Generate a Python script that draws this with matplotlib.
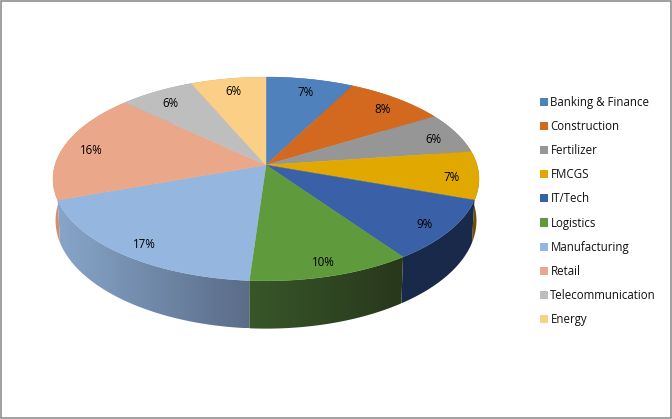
import numpy as np
import matplotlib
matplotlib.use("Agg")
import matplotlib.pyplot as plt
from matplotlib.patches import Polygon, Rectangle, Patch
from matplotlib.colors import to_rgb

categories = ["Banking & Finance", "Construction", "Fertilizer", "FMCGS", "IT/Tech",
              "Logistics", "Manufacturing", "Retail", "Telecommunication", "Energy"]
percent = [7, 8, 6, 7, 9, 10, 17, 16, 6, 6]
colors = ["#4F81BD", "#D2691E", "#969696", "#E0A800", "#3A60A8",
          "#5F9A3C", "#95B6DF", "#EBA789", "#BEBEBE", "#FBCF85"]
wall_left = ["#3A5F8C", "#9A4D16", "#6E6E6E", "#7A5C00", "#18294A",
             "#38562A", "#87A5C9", "#D08F70", "#8C8C8C", "#B89860"]
wall_right = ["#3A5F8C", "#9A4D16", "#6E6E6E", "#5E4700", "#18294A",
              "#28381B", "#5A6C88", "#D08F70", "#8C8C8C", "#B89860"]

plt.rcParams["font.family"] = ["Open Sans", "DejaVu Sans"]
fig = plt.figure(figsize=(6.72, 4.19), dpi=100)
ax = fig.add_axes([0, 0, 1, 1])
ax.axis("off")

# perspective projection of the disc
CX, CY, A, B, K = 266, 165, 100, 211, 0.137
DEPTH, SX, SY = 40.8, 0.988, 1.06


def top(theta, r=1.0):
    X, Y = r * np.sin(theta), r * np.cos(theta)
    d = 1 + K * Y
    return CX + B * X / d, CY - A * Y / d


def bottom(theta):
    x, y = top(theta)
    return CX + (x - CX) * SX, CY + (y - CY) * SY + DEPTH


vals = np.array(percent, dtype=float)
edges = np.concatenate([[0], np.cumsum(vals)]) / vals.sum() * 2 * np.pi

# side wall, back to front, each slice a horizontal gradient clipped to its outline
order = sorted(range(len(vals)), key=lambda i: -abs(((edges[i] + edges[i + 1]) / 2) - np.pi))
for n, i in enumerate(order):
    t = np.linspace(edges[i], edges[i + 1], 120)
    xt, yt = top(t)
    xb, yb = bottom(t)
    pts = np.column_stack([np.r_[xt, xb[::-1]], np.r_[yt, yb[::-1]]])
    lo, hi = pts[:, 0].min(), pts[:, 0].max()
    c0, c1 = np.array(to_rgb(wall_left[i])), np.array(to_rgb(wall_right[i]))
    f = np.linspace(0, 1, 64)[None, :, None]
    grad = c0[None, None, :] + (c1 - c0)[None, None, :] * f
    im = ax.imshow(grad, extent=(lo, hi, pts[:, 1].max(), pts[:, 1].min()), aspect="auto",
                   interpolation="bilinear", zorder=2 + n * 0.01)
    outline = Polygon(pts, closed=True, transform=ax.transData, facecolor="none", edgecolor="none")
    ax.add_patch(outline)
    im.set_clip_path(outline)

# top face
for i in range(len(vals)):
    t = np.linspace(edges[i], edges[i + 1], 120)
    xt, yt = top(t)
    pts = np.column_stack([np.r_[CX, xt], np.r_[CY, yt]])
    ax.add_patch(Polygon(pts, closed=True, facecolor=colors[i], edgecolor=colors[i], linewidth=0.3, zorder=3))

# percent labels
for i, p in enumerate(percent):
    x, y = top((edges[i] + edges[i + 1]) / 2, 0.87)
    ax.text(x + 1, y + 3, f"{p}%", ha="center", va="center", fontsize=8.3, color="black", zorder=5)

ax.set_xlim(0, 672)
ax.set_ylim(419, 0)

# legend
handles = [Patch(facecolor=c, edgecolor="none") for c in colors]
ax.legend(handles, categories, loc="center left", bbox_to_anchor=(540 / 672, 1 - 211 / 419),
          frameon=False, fontsize=8.3, handlelength=0.7, handleheight=0.7, handletextpad=0.2,
          labelspacing=0.96, borderpad=0, borderaxespad=0, labelcolor="#111111")

# outer frame
ax.add_patch(Rectangle((0.75, 0.75), 670.5, 417.5, fill=False, edgecolor="#868686", linewidth=1.1, zorder=6))

fig.savefig("out.png", dpi=100)
